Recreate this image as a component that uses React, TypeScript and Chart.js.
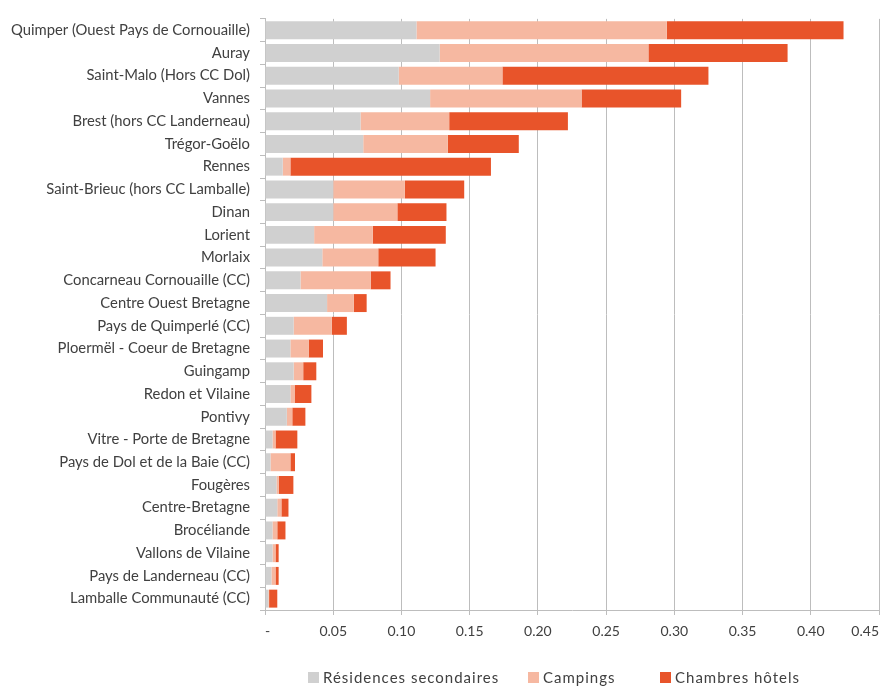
import { useEffect, useRef } from 'react';
import { Chart, registerables } from 'chart.js';

Chart.register(...registerables);

const categories = [
  'Quimper (Ouest Pays de Cornouaille)',
  'Auray',
  'Saint-Malo (Hors CC Dol)',
  'Vannes',
  'Brest (hors CC Landerneau)',
  'Trégor-Goëlo',
  'Rennes',
  'Saint-Brieuc (hors CC Lamballe)',
  'Dinan',
  'Lorient',
  'Morlaix',
  'Concarneau Cornouaille (CC)',
  'Centre Ouest Bretagne',
  'Pays de Quimperlé (CC)',
  'Ploermël - Coeur de Bretagne',
  'Guingamp',
  'Redon et Vilaine',
  'Pontivy',
  'Vitre - Porte de Bretagne',
  'Pays de Dol et de la Baie (CC)',
  'Fougères',
  'Centre-Bretagne',
  'Brocéliande',
  'Vallons de Vilaine',
  'Pays de Landerneau (CC)',
  'Lamballe Communauté (CC)',
];

const residences = [
  0.111, 0.128, 0.098, 0.121, 0.07, 0.072, 0.013, 0.05, 0.05, 0.036, 0.042, 0.026, 0.0455,
  0.021, 0.0186, 0.021, 0.0186, 0.016, 0.0055, 0.004, 0.0084, 0.009, 0.0055, 0.0055, 0.0047, 0.0025,
];

const campings = [
  0.1835, 0.153, 0.076, 0.111, 0.065, 0.062, 0.0056, 0.0525, 0.047, 0.043, 0.041, 0.0515, 0.0195,
  0.028, 0.0134, 0.007, 0.0034, 0.004, 0.0022, 0.0146, 0.0016, 0.003, 0.0035, 0.0022, 0.003, 0.0005,
];

const chambres = [
  0.1295, 0.102, 0.151, 0.073, 0.087, 0.052, 0.147, 0.0435, 0.036, 0.0535, 0.042, 0.0145, 0.0095,
  0.011, 0.0105, 0.0096, 0.012, 0.0096, 0.016, 0.0034, 0.0108, 0.0052, 0.006, 0.0023, 0.0023, 0.006,
];

const seriesNames = ['Résidences secondaires', 'Campings', 'Chambres hôtels'];
const seriesColors = ['#d0d0d0', '#f6b8a1', '#e8542a'];

const FONT = 'Lato, "Open Sans", sans-serif';

export default function App() {
  const ref = useRef<HTMLCanvasElement>(null);

  useEffect(() => {
    document.body.style.margin = '0';
    const canvas = ref.current;
    if (!canvas) return;
    const chart = new Chart(canvas, {
      type: 'bar',
      data: {
        labels: categories,
        datasets: [residences, campings, chambres].map((d, i) => ({
          label: seriesNames[i],
          data: d,
          backgroundColor: seriesColors[i],
          borderWidth: 0,
          barPercentage: 0.79,
          categoryPercentage: 1,
        })),
      },
      options: {
        indexAxis: 'y',
        animation: false,
        responsive: false,
        layout: { padding: { left: 0, right: 6, top: 15, bottom: 36 } },
        plugins: {
          legend: { display: false },
          tooltip: { enabled: false },
        },
        scales: {
          x: {
            stacked: true,
            min: 0,
            max: 0.45,
            afterFit: (s: any) => {
              s.height = 40;
            },
            ticks: {
              stepSize: 0.05,
              padding: 8,
              align: 'inner',
              color: '#404040',
              font: { family: FONT, size: 14 },
              callback: (v: any) => (Number(v) === 0 ? '-' : Number(v).toFixed(2)),
            },
            grid: { color: '#bdbdbd', tickLength: 5, drawTicks: true },
            border: { display: true, color: '#bdbdbd' },
          },
          y: {
            stacked: true,
            afterFit: (s: any) => {
              s.width = 265;
            },
            ticks: {
              padding: 10,
              color: '#404040',
              autoSkip: false,
              font: { family: FONT, size: 14.8 },
            },
            grid: { drawOnChartArea: false, tickLength: 5, color: '#bdbdbd' },
            border: { display: true, color: '#bdbdbd' },
          },
        },
      },
    });
    return () => chart.destroy();
  }, []);

  const legendLefts = [308, 528, 660];

  return (
    <div style={{ position: 'relative', width: 887, height: 686, background: '#fff', overflow: 'hidden' }}>
      <canvas ref={ref} width={887} height={686} style={{ display: 'block' }} />
      {seriesNames.map((n, i) => (
        <div
          key={n}
          style={{
            position: 'absolute',
            left: legendLefts[i],
            top: 668,
            height: 18,
            display: 'flex',
            alignItems: 'center',
            fontFamily: FONT,
            fontSize: 15,
            letterSpacing: '1px',
            color: '#404040',
            whiteSpace: 'nowrap',
          }}
        >
          <span
            style={{
              display: 'inline-block',
              width: 11,
              height: 11,
              background: seriesColors[i],
              marginRight: 4,
            }}
          />
          {n}
        </div>
      ))}
    </div>
  );
}
